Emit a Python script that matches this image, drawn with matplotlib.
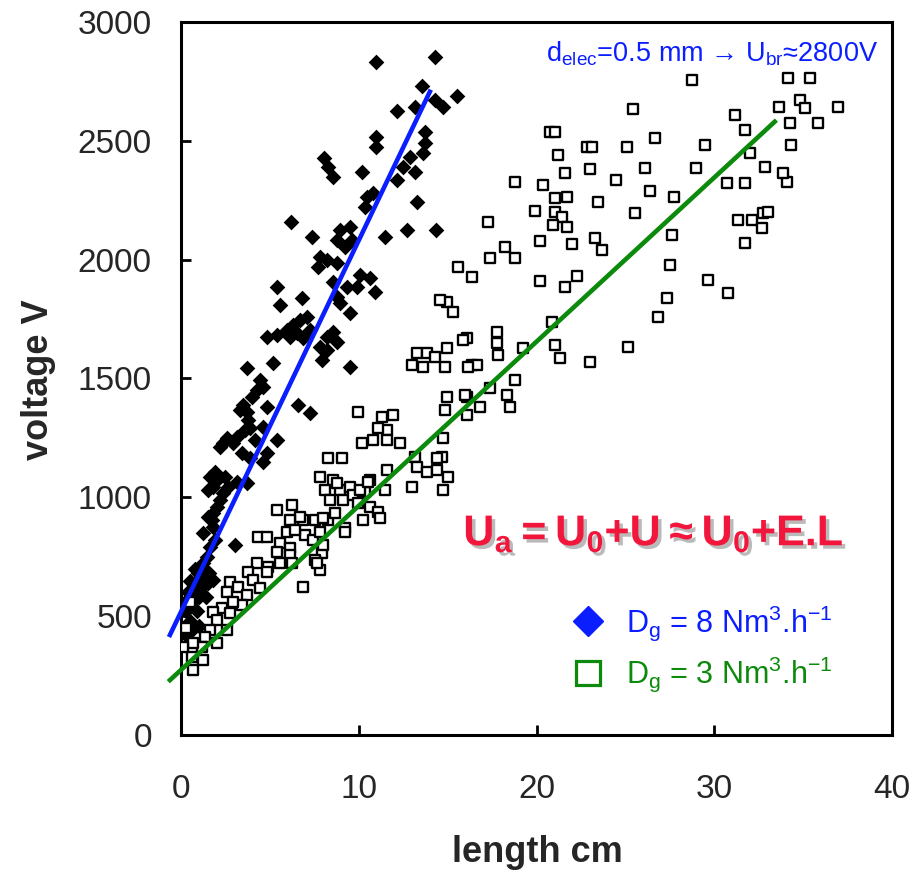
import matplotlib
matplotlib.use("Agg")
import matplotlib.pyplot as plt
import matplotlib.patheffects as pe
from matplotlib import font_manager as fm
from matplotlib.lines import Line2D
from matplotlib.font_manager import FontProperties

# ---------------- data ----------------
# D_g = 8 Nm3/h  (filled diamonds)
d8_length = [
    10.97, 14.29, 13.55, 15.52, 12.15, 13.16, 14.29, 14.74, 10.97, 10.97,
    13.72, 13.72, 13.61, 12.88, 13.16, 12.49, 8.04, 8.27, 8.55, 10.18,
    12.15, 10.46, 10.35, 10.80, 13.27, 6.19, 7.37, 8.94, 9.51, 8.77,
    9.22, 9.62, 11.47, 12.71, 14.34, 7.82, 7.71, 8.77, 8.21, 5.40,
    6.81, 10.07, 10.63, 9.90, 10.91, 8.55, 5.57, 8.77, 8.94, 9.34,
    9.51, 4.84, 5.40, 5.96, 6.30, 6.69, 7.09, 6.13, 6.52, 6.86,
    7.26, 8.21, 8.55, 8.77, 7.82, 7.93, 8.21, 9.51, 3.71, 5.17,
    4.44, 4.27, 4.61, 3.99, 3.49, 3.32, 3.71, 4.84, 6.58, 7.26,
    3.77, 3.88, 3.60, 3.15, 2.92, 2.59, 2.36, 2.19, 4.61, 5.40,
    4.16, 4.84, 4.61, 3.88, 3.43, 1.91, 1.63, 2.02, 1.80, 1.52,
    2.47, 2.64, 3.15, 3.71, 2.36, 2.19, 2.02, 1.80, 1.52, 1.24,
    3.04, 1.74, 1.80, 1.91, 1.63, 1.46, 1.24, 0.96,
    0.2, 0.3, 0.5, 0.6, 0.7, 0.8, 0.9, 1.0, 1.1, 1.2,
    0.4, 0.3, 0.6, 1.3, 1.5, 1.6, 0.8, 0.2, 1.0, 1.8,
    1.4, 0.5,
]
d8_voltage = [
    2832, 2853, 2731, 2689, 2626, 2643, 2672, 2643, 2516, 2474,
    2537, 2491, 2449, 2432, 2369, 2390, 2428, 2390, 2348, 2369,
    2335, 2264, 2222, 2281, 2243, 2159, 2096, 2125, 2138, 2083,
    2054, 2083, 2096, 2125, 2125, 2011, 1969, 1986, 1999, 1885,
    1839, 1936, 1923, 1885, 1864, 1906, 1809, 1843, 1818, 1885,
    1776, 1675, 1683, 1704, 1725, 1746, 1759, 1675, 1692, 1671,
    1704, 1675, 1696, 1654, 1633, 1578, 1620, 1549, 1544, 1565,
    1494, 1452, 1464, 1422, 1389, 1368, 1359, 1380, 1389, 1355,
    1326, 1292, 1283, 1254, 1229, 1250, 1229, 1212, 1296, 1241,
    1241, 1187, 1149, 1166, 1187, 1107, 1086, 1073, 1044, 1031,
    1086, 1044, 1065, 1060, 1018, 989, 959, 934, 917, 850,
    800, 905, 875, 821, 791, 749, 724, 682,
    450, 520, 480, 560, 600, 640, 520, 580, 620, 660,
    600, 420, 440, 700, 640, 680, 700, 560, 460, 652,
    580, 650,
]

# D_g = 3 Nm3/h  (open squares)
d3_length = [
    28.74, 34.14, 35.38, 33.63, 34.81, 35.10, 34.25, 35.83, 36.95, 31.16,
    31.72, 25.42, 20.75, 21.03, 26.66, 22.83, 23.12, 25.08, 29.47, 34.31,
    21.20, 32.00, 21.60, 23.00, 26.10, 28.97, 32.85, 24.47, 18.79, 30.71,
    31.72, 34.08, 33.86, 20.36, 21.71, 21.03, 26.38, 27.73, 23.45, 19.91,
    21.03, 21.43, 25.53, 32.73, 33.01, 31.33, 32.11, 32.68, 17.27, 20.92,
    21.71, 27.62, 31.72, 20.19, 21.99, 23.28, 23.68, 18.22, 17.38, 18.79,
    27.50, 15.58, 16.37, 20.19, 21.60, 22.27, 29.64, 30.76, 27.33, 26.83,
    25.14, 23.00, 14.96, 15.30, 14.57, 17.77, 17.77, 17.83, 16.09, 14.96,
    19.24, 20.87, 21.03, 21.32, 16.37, 16.65, 16.14, 14.85, 18.79, 18.34,
    18.50, 17.38, 16.82, 16.09, 16.09, 14.96, 14.85, 14.74, 14.68, 15.02,
    14.74, 15.86, 13.27, 13.84, 12.99, 13.61, 14.29, 15.97, 11.92, 11.59,
    12.32, 11.59, 9.96, 11.30, 11.08, 10.18, 10.80, 8.27, 9.06, 13.16,
    13.27, 14.40, 13.84, 14.40, 12.99, 11.59, 10.63, 11.47, 7.82, 8.55,
    8.10, 8.94, 9.51, 8.38, 9.11, 9.67, 10.35, 9.96, 10.63, 11.08,
    10.24, 11.19, 9.22, 8.27, 8.66, 6.86, 7.54, 7.99, 6.97, 7.42,
    7.82, 7.93, 7.54, 7.82, 8.77, 10.07, 10.52, 5.40, 6.24, 6.69,
    6.13, 4.33, 4.84, 5.96, 6.41, 5.57, 6.13, 5.40, 6.13, 5.57,
    6.24, 7.99, 7.65, 9.22, 4.27, 4.89, 3.77, 4.84, 4.05, 4.44,
    6.86, 2.76, 3.21, 2.59, 3.71, 3.43, 2.92, 2.31, 2.76, 1.80,
    2.02, 2.59, 1.63, 1.35, 2.02, 1.18, 0.67, 1.24, 0.67, 0.62,
    0.11, 0.30, 0.50,
]
d3_voltage = [
    2756, 2765, 2765, 2643, 2672, 2638, 2575, 2575, 2643, 2609,
    2546, 2634, 2537, 2537, 2512, 2474, 2474, 2474, 2483, 2483,
    2441, 2449, 2365, 2382, 2386, 2386, 2390, 2335, 2327, 2323,
    2323, 2327, 2365, 2314, 2264, 2260, 2289, 2264, 2243, 2205,
    2201, 2180, 2197, 2197, 2201, 2167, 2167, 2133, 2159, 2146,
    2138, 2104, 2070, 2079, 2066, 2091, 2041, 2054, 2007, 2007,
    1978, 1969, 1927, 1910, 1885, 1931, 1915, 1860, 1839, 1759,
    1633, 1570, 1822, 1780, 1830, 1696, 1650, 1599, 1671, 1628,
    1628, 1738, 1641, 1586, 1557, 1557, 1549, 1549, 1494, 1431,
    1380, 1460, 1380, 1422, 1347, 1422, 1368, 1250, 1170, 1086,
    1031, 1662, 1607, 1607, 1557, 1549, 1591, 1431, 1347, 1283,
    1229, 1241, 1359, 1338, 1292, 1229, 1241, 1166, 1166, 1170,
    1128, 1166, 1107, 1115, 1044, 1115, 1073, 1031, 1086, 1073,
    1031, 1031, 1044, 989, 989, 1010, 1023, 976, 959, 938,
    905, 913, 871, 905, 934, 905, 905, 913, 842, 821,
    854, 766, 736, 694, 1060, 1031, 1065, 947, 968, 917,
    905, 833, 833, 854, 863, 808, 787, 770, 757, 724,
    724, 800, 724, 854, 724, 707, 686, 686, 652, 619,
    623, 644, 623, 602, 589, 547, 560, 534, 513, 518,
    484, 442, 442, 412, 387, 370, 387, 316, 274, 328,
    370, 450, 560,
]

# fitted lines U = U0 + E.L  (end points)
fit8_length = [-0.62, 14.0]
fit8_voltage = [421, 2706]
fit3_length = [-0.62, 33.4]
fit3_voltage = [231, 2580]

x_ticks = [0, 10, 20, 30, 40]
y_ticks = [0, 500, 1000, 1500, 2000, 2500, 3000]

series_labels = [r"$\mathregular{D_g}$ = 8 Nm$\mathregular{^3}$.h$\mathregular{^{-1}}$",
                 r"$\mathregular{D_g}$ = 3 Nm$\mathregular{^3}$.h$\mathregular{^{-1}}$"]
note_text = r"$\mathregular{d_{elec}}$=0.5 mm → $\mathregular{U_{br}}$≈2800V"
eq_text = "$\\mathregular{U_a}$\u2009=\u2009$\\mathregular{U_0}$+U\u2009≈\u2009$\\mathregular{U_0}$+E.L"

# ---------------- style ----------------
names = {f.name for f in fm.fontManager.ttflist}
NARROW = "Liberation Sans Narrow" if "Liberation Sans Narrow" in names else "Liberation Sans"

plt.rcParams["font.family"] = ["Liberation Sans", "DejaVu Sans"]
plt.rcParams["mathtext.fontset"] = "custom"
plt.rcParams["mathtext.rm"] = "Liberation Sans"
plt.rcParams["mathtext.bf"] = "Liberation Sans:bold"

BLUE = "#0a1eff"
GREEN = "#0b8a0b"
RED = "#f2163c"
TXT = "#262626"

fig = plt.figure(figsize=(9.14, 8.74), dpi=100)
ax = fig.add_axes([0.198, 0.159, 0.778, 0.816])

ax.scatter(d8_length, d8_voltage, marker="D", s=64, c="black", linewidths=0, zorder=2)
ax.scatter(d3_length, d3_voltage, marker="s", s=54, facecolors="white",
           edgecolors="black", linewidths=1.7, zorder=3)
ax.plot(fit8_length, fit8_voltage, color=BLUE, lw=3.3, clip_on=False, zorder=5)
ax.plot(fit3_length, fit3_voltage, color=GREEN, lw=3.3, clip_on=False, zorder=5)

ax.set_xlim(0, 40)
ax.set_ylim(0, 3000)
ax.set_xticks(x_ticks)
ax.set_yticks(y_ticks)
ax.set_xticklabels([str(v) for v in x_ticks])
ax.set_yticklabels([str(v) for v in y_ticks])
for s in ax.spines.values():
    s.set_linewidth(2.2)
    s.set_color("black")
ax.tick_params(direction="in", length=7, width=2, labelsize=24, labelcolor=TXT,
               top=False, right=False)
ax.tick_params(axis="x", pad=28)
ax.tick_params(axis="y", pad=21)

fig.text(38 / 914, 1 - 380 / 874, "voltage V", rotation=90, ha="center", va="center",
         fontsize=26, fontweight="bold", color=TXT)
fig.text(537 / 914, 1 - 853 / 874, "length cm", ha="center", va="center",
         fontsize=26, fontweight="bold", color=TXT)

ax.text(0.980, 0.944, note_text, transform=ax.transAxes, ha="right", va="baseline",
        fontsize=19.5, color=BLUE, family=[NARROW, "DejaVu Sans"])

ax.text(0.397, 0.266, eq_text, transform=ax.transAxes, ha="left", va="baseline",
        fontsize=31, fontweight="bold", color=RED, zorder=6,
        family=["Liberation Sans", "DejaVu Sans"],
        path_effects=[pe.SimplePatchShadow(offset=(2.5, -2.5), shadow_rgbFace="#777777", alpha=0.5),
                      pe.Normal()])

handles = [Line2D([], [], ls="none", marker="D", ms=15, mfc=BLUE, mec=BLUE),
           Line2D([], [], ls="none", marker="s", ms=17, mfc="none", mec=GREEN, mew=2.3)]
ax.legend(handles, series_labels, loc="upper left", bbox_to_anchor=(0.551, 0.185),
          frameon=False, prop=FontProperties(family=NARROW, size=22),
          labelcolor=[BLUE, GREEN], handlelength=1.0, handletextpad=0.75,
          labelspacing=0.4, borderpad=0, borderaxespad=0)

fig.savefig("out.png", dpi=100)
